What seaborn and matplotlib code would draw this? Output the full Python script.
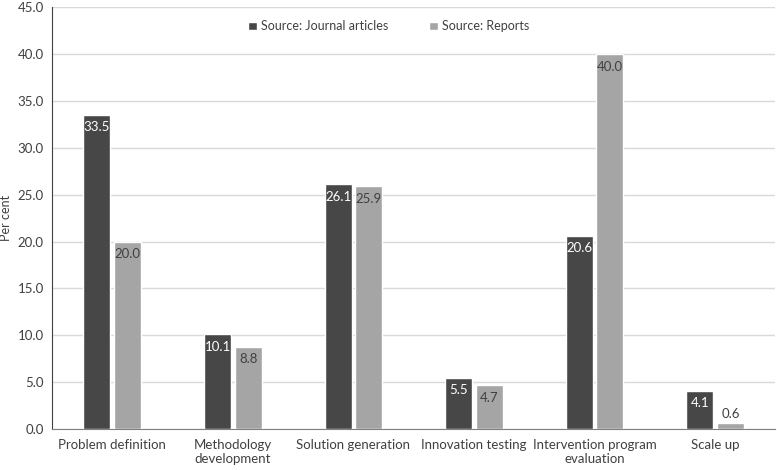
import pandas as pd
import seaborn as sns
import matplotlib.pyplot as plt

categories = ['Problem definition', 'Methodology\ndevelopment', 'Solution generation',
              'Innovation testing', 'Intervention program\nevaluation', 'Scale up']
journal = [33.5, 10.1, 26.1, 5.5, 20.6, 4.1]
reports = [20.0, 8.8, 25.9, 4.7, 40.0, 0.6]
series = ['Source: Journal articles', 'Source: Reports']

df = pd.DataFrame({
    'category': categories * 2,
    'value': journal + reports,
    'source': [series[0]] * len(categories) + [series[1]] * len(categories),
})

sns.set_style('white')
plt.rcParams['font.family'] = ['Lato', 'DejaVu Sans']

fig, ax = plt.subplots(figsize=(7.77, 4.70), dpi=100)
sns.barplot(data=df, x='category', y='value', hue='source', order=categories,
            palette=['#474747', '#a5a5a5'], width=0.51, gap=0.12,
            saturation=1, ax=ax, zorder=3)

# value labels inside the bars
for cont, col in zip(ax.containers, ['white', '#404040']):
    for bar in cont:
        h = bar.get_height()
        x = bar.get_x() + bar.get_width() / 2
        if h < 2:
            ax.text(x, h + 0.4, f'{h:.1f}', ha='center', va='bottom', color='#404040', fontsize=9.5)
        else:
            ax.text(x, h - 0.7, f'{h:.1f}', ha='center', va='top', color=col, fontsize=9.5)

ax.set_ylim(0, 45)
ax.set_yticks(range(0, 46, 5))
ax.set_yticklabels([f'{v:.1f}' for v in range(0, 46, 5)])
ax.set_xlim(-0.5, len(categories) - 0.5)
ax.yaxis.grid(True, color='#d9d9d9', linewidth=1, zorder=0)
ax.set_xlabel('')
ax.set_ylabel('Per cent', fontsize=9, color='#404040', labelpad=4)
ax.tick_params(axis='both', labelsize=9.5, colors='#404040', length=0)
ax.tick_params(axis='x', pad=7)
ax.tick_params(axis='y', pad=6)
for s in ['top', 'right']:
    ax.spines[s].set_visible(False)
ax.spines['left'].set_color('#404040')
ax.spines['bottom'].set_color('#808080')

ax.legend(loc='upper center', bbox_to_anchor=(0.465, 0.995), ncol=2, frameon=False,
          fontsize=9, handlelength=0.7, handleheight=0.7, handletextpad=0.3,
          columnspacing=3.3, labelcolor='#404040')

plt.subplots_adjust(left=0.067, right=0.998, top=0.985, bottom=0.087)
plt.savefig('out.png')
